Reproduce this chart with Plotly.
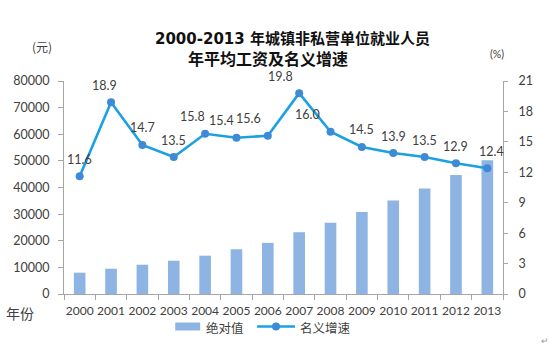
import plotly.graph_objects as go

years = ["2000", "2001", "2002", "2003", "2004", "2005", "2006",
         "2007", "2008", "2009", "2010", "2011", "2012", "2013"]
wage = [8000, 9500, 11000, 12500, 14400, 16800, 19200,
        23200, 26800, 30800, 35100, 39600, 44700, 50200]
growth = [11.6, 18.9, 14.7, 13.5, 15.8, 15.4, 15.6,
          19.8, 16.0, 14.5, 13.9, 13.5, 12.9, 12.4]
label_xshift = [0, -7, 0, 0, -13, -15, -19, -19, -23, 0, 0, 0, 0, 4]

W, H = 560, 352
L, R, T, B = 63.5, 503.5, 81, 294
PW, PH = R - L, B - T

def px(x):
    return (x - L) / PW

def py(y):
    return (B - y) / PH

NUM_FONT = "Lato, 'Noto Sans CJK SC', sans-serif"
CJK_FONT = "'Noto Sans CJK SC', sans-serif"
TXT = "#404040"
AX = "#a6a6a6"
BAR = "#8db4e2"
LINE = "#1ba1e2"
MARK = "#3e8ad6"

fig = go.Figure()
fig.add_trace(go.Bar(x=years, y=wage, marker=dict(color=BAR, line=dict(width=0)),
                     name="绝对值", yaxis="y", showlegend=False))
fig.add_trace(go.Scatter(x=years, y=growth, mode="lines+markers", name="名义增速",
                         yaxis="y2", line=dict(color=LINE, width=2.6),
                         marker=dict(color=MARK, size=8), showlegend=False))

ann = []
for i, (g, dx) in enumerate(zip(growth, label_xshift)):
    ann.append(dict(x=i, y=g, xref="x", yref="y2", text=f"{g:.1f}", showarrow=False,
                    xanchor="center", yanchor="middle",
                    yshift=17, xshift=dx, font=dict(family=NUM_FONT, size=12.5, color=TXT)))

def pann(x, y, text, font, xanchor="center"):
    return dict(x=px(x), y=py(y), xref="paper", yref="paper", showarrow=False, text=text,
                xanchor=xanchor, yanchor="middle", font=font)

ann += [
    pann(293, 39.5, "<b>2000-2013 年城镇非私营单位就业人员</b>",
         dict(family="'DejaVu Sans', 'Noto Sans CJK SC', sans-serif", size=15, color="#111")),
    pann(268, 58, "<b>年平均工资及名义增速</b>",
         dict(family=CJK_FONT, size=16, color="#111")),
    pann(41, 46, "(元)", dict(family=CJK_FONT, size=12, color=TXT)),
    pann(497, 54, "(%)", dict(family=NUM_FONT, size=10.5, color=TXT)),
    pann(19, 313, "年份", dict(family=CJK_FONT, size=14, color=TXT)),
    pann(204, 327, "绝对值", dict(family=CJK_FONT, size=12.5, color=TXT), "left"),
    pann(298, 327, "名义增速", dict(family=CJK_FONT, size=12.5, color=TXT), "left"),
    pann(546, 340, "↵", dict(family=NUM_FONT, size=9, color="#999")),
]

shapes = [
    dict(type="rect", xref="paper", yref="paper", x0=px(175), x1=px(200),
         y0=py(330.5), y1=py(322.5), fillcolor=BAR, line=dict(width=0)),
    dict(type="line", xref="paper", yref="paper", x0=px(257), x1=px(295),
         y0=py(326.5), y1=py(326.5), line=dict(color=LINE, width=2.6)),
    dict(type="circle", xref="paper", yref="paper", x0=px(272), x1=px(280),
         y0=py(330.5), y1=py(322.5), fillcolor=MARK, line=dict(width=0)),
]

fig.update_layout(
    width=W, height=H,
    margin=dict(l=L, r=W - R, t=T, b=H - B, autoexpand=False),
    paper_bgcolor="white", plot_bgcolor="white",
    bargap=0.63,
    annotations=ann, shapes=shapes,
    xaxis=dict(type="category", range=[-0.5, len(years) - 0.5], showgrid=False,
               showline=True, linecolor=AX, linewidth=1, tickangle=0,
               ticks="outside", tickson="boundaries", ticklen=5, tickcolor=AX,
               tickfont=dict(family=NUM_FONT, size=12, color=TXT), ticklabelstandoff=6),
    yaxis=dict(range=[0, 80000], dtick=10000, showgrid=False, showline=True, linecolor=AX,
               ticks="outside", ticklen=5, tickcolor=AX, zeroline=False,
               tickformat="d",
               tickfont=dict(family=NUM_FONT, size=12.5, color=TXT), ticklabelstandoff=6),
    yaxis2=dict(range=[0, 21], dtick=3, overlaying="y", side="right", showgrid=False,
                showline=True, linecolor=AX, ticks="outside", ticklen=4, tickcolor=AX,
                zeroline=False, tickfont=dict(family=NUM_FONT, size=12.5, color=TXT),
                ticklabelstandoff=8),
)

fig.write_html("out.html")
